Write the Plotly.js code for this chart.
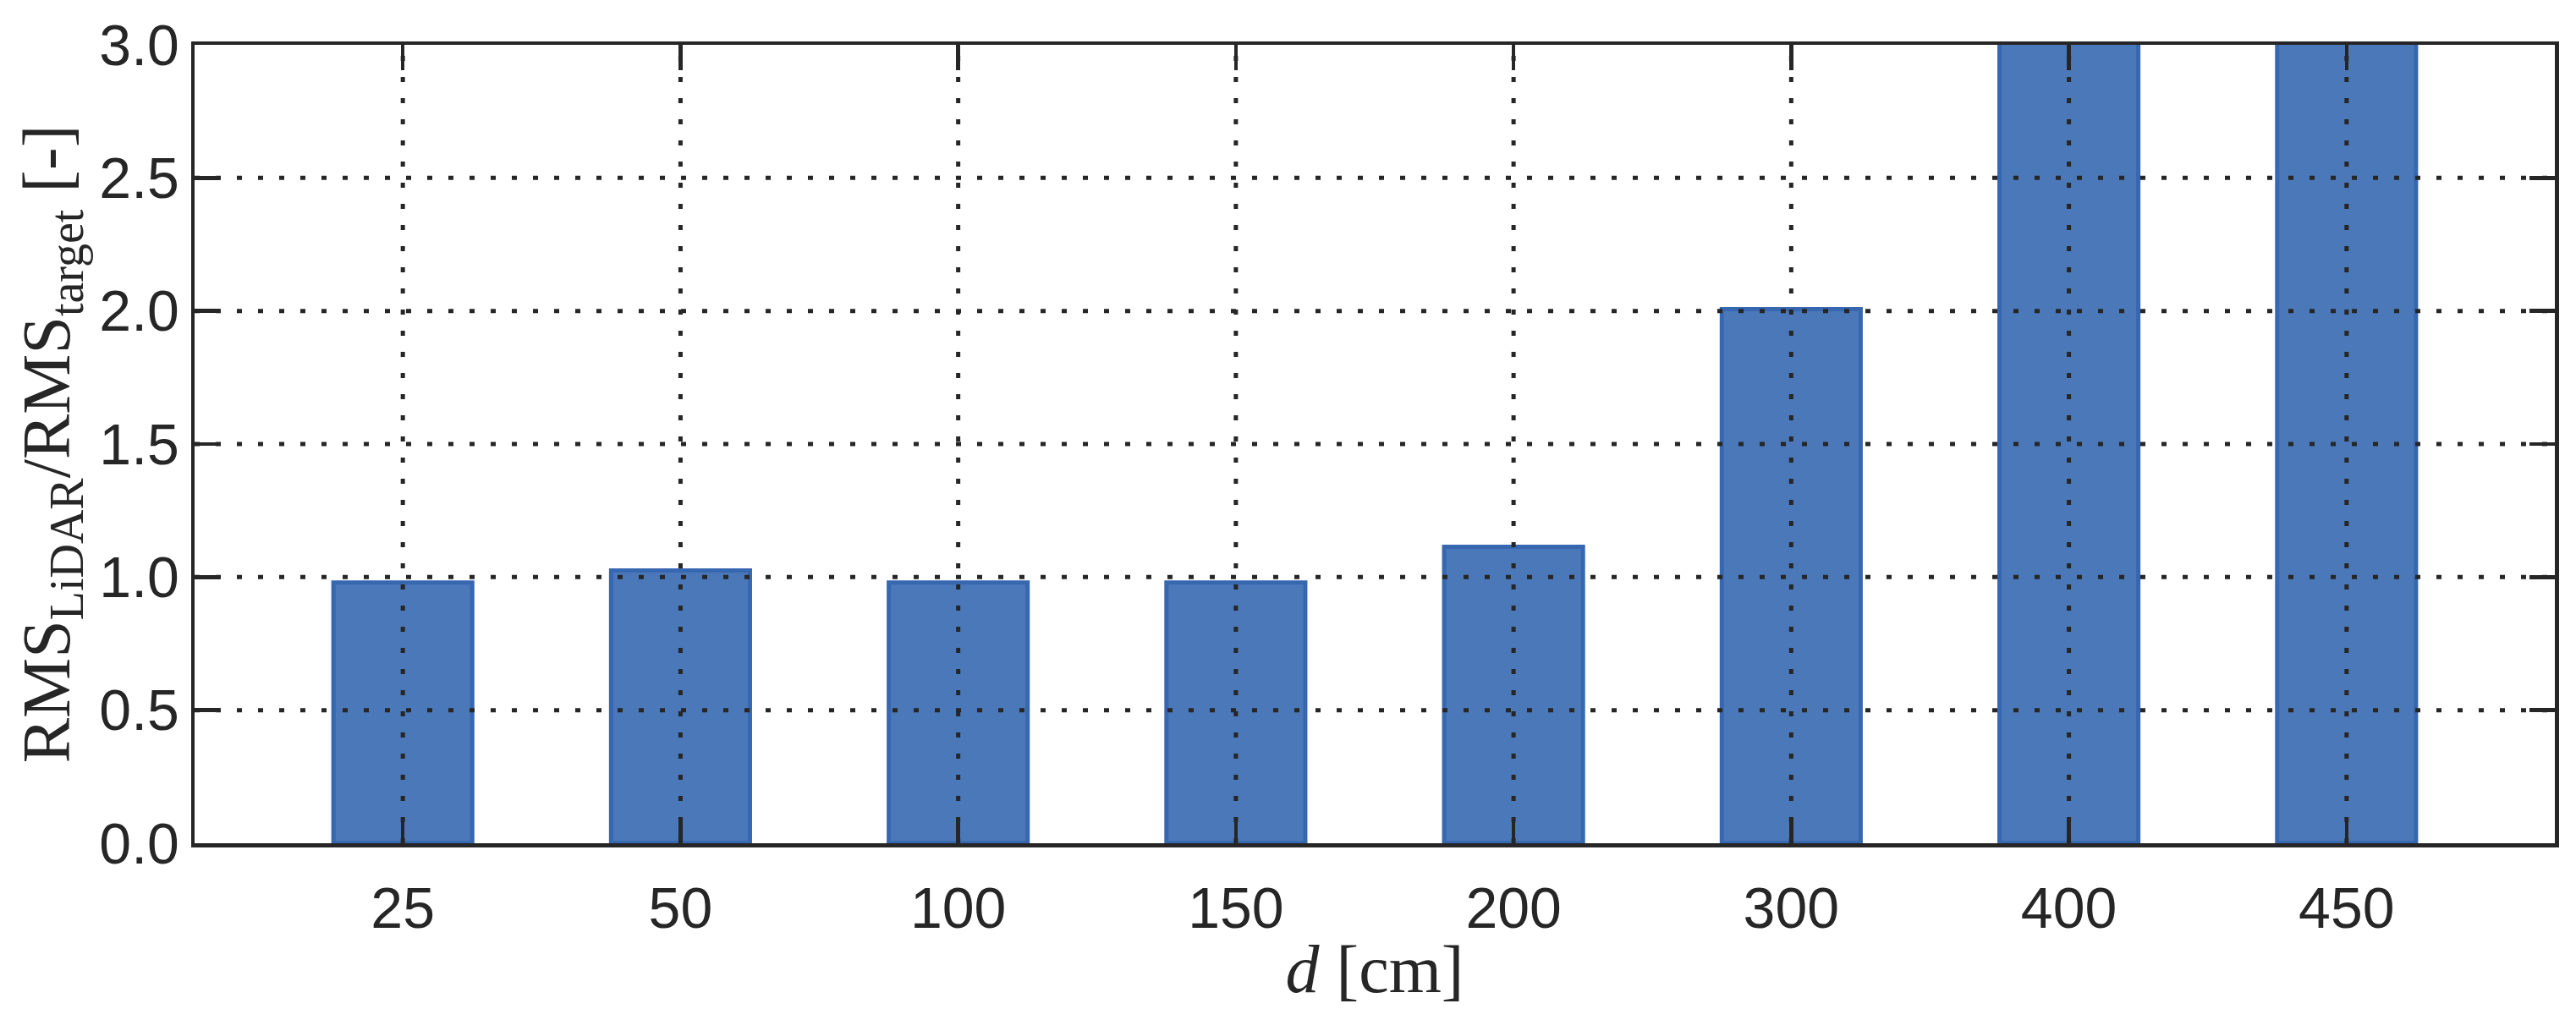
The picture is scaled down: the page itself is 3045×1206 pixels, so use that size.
<!DOCTYPE html>
<html>
<head>
<meta charset="utf-8">
<script src="https://cdn.plot.ly/plotly-3.0.1.min.js"></script>
<style>
  html, body { margin: 0; padding: 0; background: #fff; }
  #graph { width: 3045px; height: 1206px; }
</style>
</head>
<body>
<div id="graph"></div>
<script>
// distances on the x axis, one bar each
const distances = ['25', '50', '100', '150', '200', '300', '400', '450'];
// RMS ratio (the last two run off the top of the axis)
const rmsRatio = [0.98, 1.025, 0.98, 0.98, 1.114, 2.007, 3.6, 4.2];
// y ticks, also where the dotted grid sits
const yTicks = [0, 0.5, 1.0, 1.5, 2.0, 2.5, 3.0];

const ink = '#262626';
const gridDash = '6px,19px';

const bars = {
    type: 'bar',
    x: distances,
    y: rmsRatio,
    width: 0.5,
    marker: {
        color: '#4a78b8',
        line: { color: '#3767b0', width: 5 }
    },
    hoverinfo: 'skip',
    showlegend: false
};

// grid goes on top of the bars, like the original, so draw it as shapes.
// on a category axis a shape wants the category index, not the label
const gridShapes = [];
yTicks.slice(1, -1).forEach(v => {
    gridShapes.push({
        type: 'line', layer: 'above',
        xref: 'paper', x0: 0, x1: 1,
        yref: 'y', y0: v, y1: v,
        line: { color: ink, width: 5, dash: gridDash }
    });
});
distances.forEach((d, i) => {
    gridShapes.push({
        type: 'line', layer: 'above',
        xref: 'x', x0: i, x1: i,
        yref: 'paper', y0: 0, y1: 1,
        line: { color: ink, width: 5, dash: gridDash }
    });
});

const tickFont = { family: 'Liberation Sans, Arial, sans-serif', size: 68, color: ink };
const titleFont = { family: 'Liberation Serif, Times New Roman, serif', size: 80, color: ink };

const axisCommon = {
    showgrid: false,
    zeroline: false,
    showline: true,
    linecolor: ink,
    linewidth: 4.5,
    mirror: 'ticks',
    ticks: 'inside',
    ticklen: 30,
    tickwidth: 4.5,
    tickcolor: ink,
    layer: 'above traces',
    tickfont: tickFont
};

const layout = {
    width: 3045,
    height: 1206,
    margin: { l: 230, r: 25, t: 53, b: 209, pad: 0 },
    paper_bgcolor: '#fff',
    plot_bgcolor: '#fff',
    xaxis: Object.assign({}, axisCommon, {
        type: 'category',
        categoryorder: 'array',
        categoryarray: distances,
        range: [-0.75, distances.length - 0.25],
        ticklabelstandoff: 14,
        title: { text: '<i>d</i> [cm]', font: titleFont, standoff: 8 }
    }),
    yaxis: Object.assign({}, axisCommon, {
        range: [0, 3],
        tickvals: yTicks,
        ticktext: yTicks.map(v => v.toFixed(1)),
        ticklabelstandoff: 0,
        title: { text: 'RMS<sub>LiDAR</sub>/RMS<sub>target</sub> [-]', font: titleFont, standoff: 10 }
    }),
    shapes: gridShapes,
    bargap: 0
};

Plotly.newPlot('graph', [bars], layout, { displayModeBar: false, staticPlot: true });
</script>
</body>
</html>
